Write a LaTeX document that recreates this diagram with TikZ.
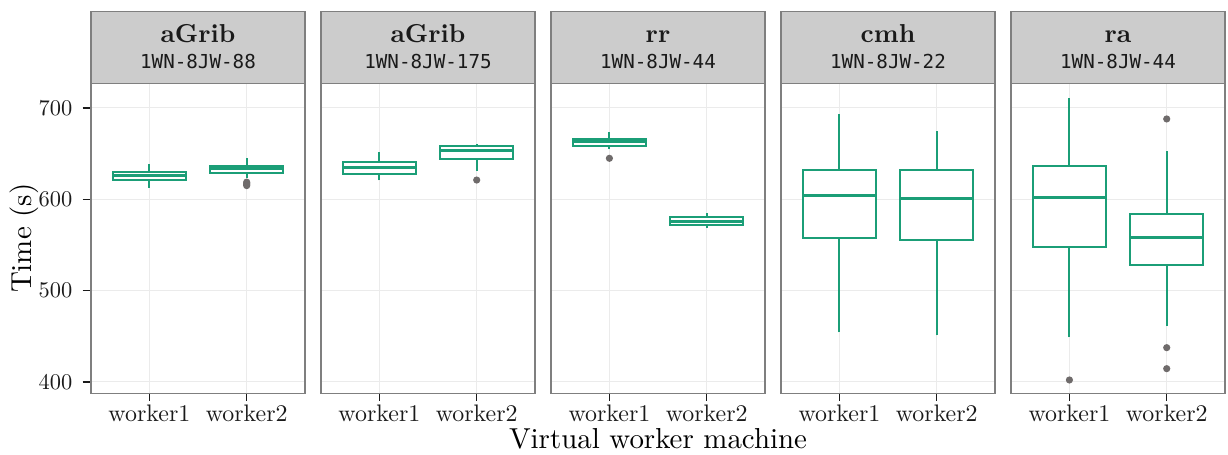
\documentclass[tikz,border=0pt]{standalone}
\usepackage{fontspec}
\setmainfont{lmroman10-regular.otf}[BoldFont=lmroman10-bold.otf]
\newfontfamily\stripmono{DejaVu Sans Mono}
\definecolor{boxgreen}{HTML}{1B9E77}
\definecolor{gridgray}{HTML}{EBEBEB}
\definecolor{framegray}{HTML}{7F7F7F}
\definecolor{stripgray}{HTML}{CCCCCC}
\definecolor{outliergray}{HTML}{6F6B6B}
\definecolor{inkgray}{HTML}{1A1A1A}

% one box: x, lower whisker, q1, median, q3, upper whisker
\newcommand{\bxp}[6]{%
  \draw[whisk] (#1,{py(#2)}) -- (#1,{py(#3)});
  \draw[whisk] (#1,{py(#5)}) -- (#1,{py(#6)});
  \draw[boxst] ({#1-36.5},{py(#3)}) rectangle ({#1+36.5},{py(#5)});
  \draw[medst] ({#1-36.5},{py(#4)}) -- ({#1+36.5},{py(#4)});
}
% one outlying point
\newcommand{\outp}[2]{\fill[outl] (#1,{py(#2)}) circle[radius=3.6bp];}

% panel background, grid and strip: name, strip title, strip subtitle
\newcommand{\panelbase}[3]{%
  \fill[white] (0,83.3) rectangle (214,393.3);
  \foreach \vv in {400,500,600,700}
    \draw[grid] (0,{py(\vv)}) -- (214,{py(\vv)});
  \foreach \xx in {58.4,155.7}
    \draw[grid] (\xx,83.3) -- (\xx,393.3);
  \draw[strip] (0,11.3) rectangle (214,83.3);
  \node[striptitle] (#1-t) at (107,42.3) {#2};
  \node[stripsub] (#1-s) at (107,68.3) {#3};
  \foreach \xx/\ww in {58.4/1,155.7/2} {
    \draw[tickst] (\xx,393.3) -- (\xx,401.5);
    \node[xticklab] (#1-w\ww) at (\xx,421.8) {worker\ww};
  }
}
\newcommand{\panelframe}{\draw[frame] (0,83.3) rectangle (214,393.3);}

\begin{document}
\begin{tikzpicture}[x=1bp,y=-1bp,
  declare function={py(\val)=108+(700-\val)*0.913;},
  grid/.style={gridgray, line width=1bp},
  frame/.style={framegray, line width=1.4bp},
  strip/.style={fill=stripgray, draw=framegray, line width=1.4bp},
  whisk/.style={boxgreen, line width=1.9bp},
  boxst/.style={boxgreen, line width=1.9bp, fill=white},
  medst/.style={boxgreen, line width=3bp},
  outl/.style={fill=outliergray},
  tickst/.style={inkgray, line width=1.4bp},
  yticklab/.style={font=\fontsize{22.5}{26}\selectfont, text=inkgray, inner sep=0, anchor=east},
  xticklab/.style={font=\fontsize{24}{28}\selectfont, text=inkgray, inner sep=0, anchor=base},
  striptitle/.style={font=\fontsize{26}{30}\selectfont\bfseries, text=inkgray, inner sep=0, anchor=base},
  stripsub/.style={font=\fontsize{19.3}{22}\stripmono, text=inkgray, inner sep=0, anchor=base},
  axtitle/.style={font=\fontsize{29}{32}\selectfont, text=black, inner sep=0, anchor=base}
]
\fill[white] (0,0) rectangle (1228,455);
\useasboundingbox (0,0) rectangle (1228,455);

% y axis on the first panel
\foreach \vv in {400,500,600,700} {
  \draw[tickst] (82.5,{py(\vv)}) -- (91,{py(\vv)});
  \node[yticklab] (y\vv) at (72.5,{py(\vv)}) {\vv};
}

\begin{scope}[xshift=91bp]
  \panelbase{p1}{aGrib}{1WN-8JW-88}
  \bxp{58.4}{612.7}{621.1}{626.6}{629.6}{638.3}
  \bxp{155.7}{623.5}{629.1}{633.5}{636.5}{645.2}
  \outp{155.7}{615}\outp{155.7}{616.3}\outp{155.7}{617.6}\outp{155.7}{618.8}
  \panelframe
\end{scope}

\begin{scope}[xshift=321bp]
  \panelbase{p2}{aGrib}{1WN-8JW-175}
  \bxp{58.4}{620.8}{628.0}{634.6}{641.2}{651.5}
  \bxp{155.7}{631}{643.8}{652.9}{658.4}{660.6}
  \outp{155.7}{621.1}
  \panelframe
\end{scope}

\begin{scope}[xshift=551bp]
  \panelbase{p3}{rr}{1WN-8JW-44}
  \bxp{58.4}{655.1}{658.7}{662.8}{666}{674}
  \outp{58.4}{644.9}
  \bxp{155.7}{568.9}{571.9}{576.2}{580.6}{584.7}
  \panelframe
\end{scope}

\begin{scope}[xshift=781bp]
  \panelbase{p4}{cmh}{1WN-8JW-22}
  \bxp{58.4}{454.3}{557.9}{604.7}{631.8}{693.4}
  \bxp{155.7}{451}{555.4}{600.7}{632.1}{674.5}
  \panelframe
\end{scope}

\begin{scope}[xshift=1011bp]
  \panelbase{p5}{ra}{1WN-8JW-44}
  \bxp{58.4}{448.9}{547.4}{602.5}{636.5}{711.3}
  \outp{58.4}{402.1}
  \bxp{155.7}{461.6}{528}{558}{584.2}{653.2}
  \outp{155.7}{688}\outp{155.7}{437.5}\outp{155.7}{414.5}
  \panelframe
\end{scope}

\node[axtitle] (xtitle) at (658,449) {Virtual worker machine};
\node[axtitle, rotate=90] (ytitle) at (31.5,238.3) {Time (s)};
\end{tikzpicture}
\end{document}
